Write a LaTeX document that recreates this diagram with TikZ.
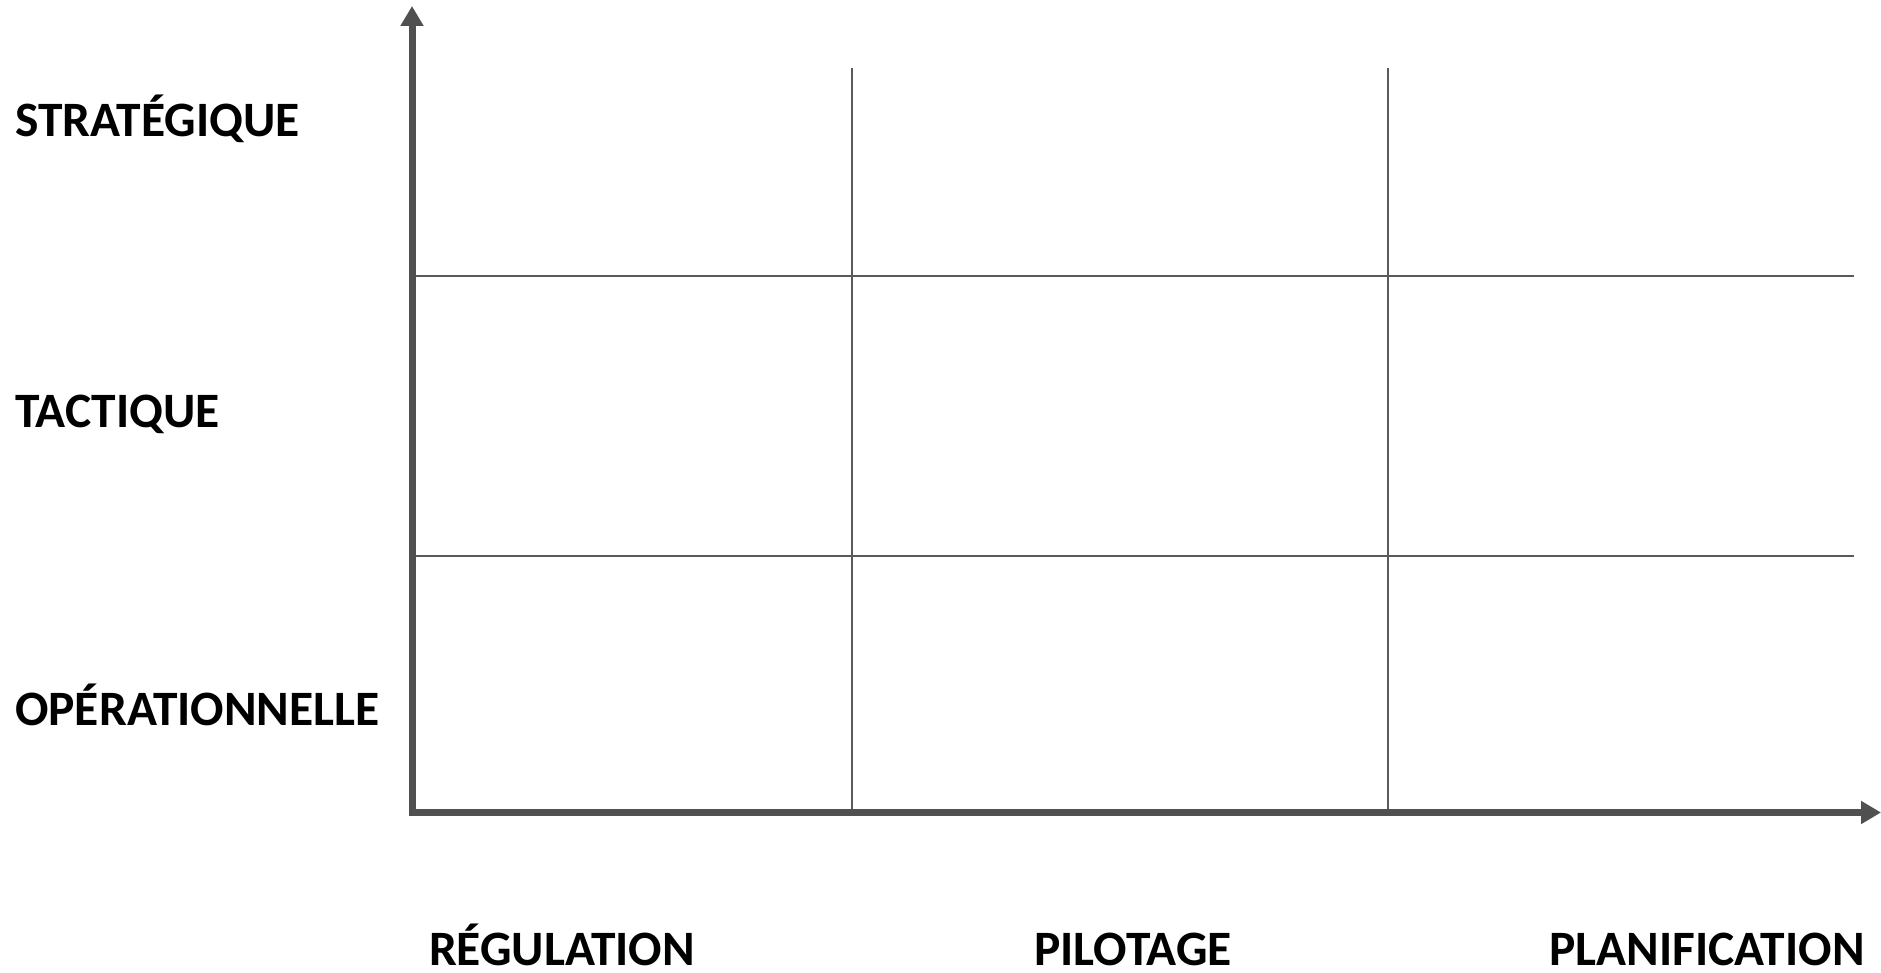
\documentclass[tikz,border=0pt]{standalone}
\usepackage{fontspec}
\setmainfont{Carlito}
\usetikzlibrary{
		positioning,
		arrows.meta
	}
\definecolor{axisgray}{HTML}{505050}
\definecolor{gridgray}{HTML}{5A5A5A}
\tikzset{
		>={Triangle[length=20pt,width=22pt]},
		axis/.style={line width=7pt, axisgray, ->},
		grid line/.style={line width=2pt, gridgray},
		level/.style={anchor=base west, inner sep=0pt, font=\fontsize{49.5}{52}\selectfont\bfseries},
		mode/.style={anchor=base, inner sep=0pt, text depth=0pt, font=\fontsize{49.5}{52}\selectfont\bfseries}
	}

\begin{document}
\begin{tikzpicture}[x=1pt, y=-1pt]
		\useasboundingbox (0,0) rectangle (1881,973);
		% axes
		\coordinate (origin) at (412,812.5);
		\coordinate (ytop) at (412,6);
		\coordinate (xend) at (1881,812.5);
		\coordinate (corner) at (408.5,812.5);
		% grid
		\coordinate (v1top) at (852,68); \coordinate (v1bot) at (852,812);
		\coordinate (v2top) at (1388,68); \coordinate (v2bot) at (1388,812);
		\coordinate (h1left) at (415,276); \coordinate (h1right) at (1854,276);
		\coordinate (h2left) at (415,556); \coordinate (h2right) at (1854,556);
		\draw[grid line] (v1top) -- (v1bot);
		\draw[grid line] (v2top) -- (v2bot);
		\draw[grid line] (h1left) -- (h1right);
		\draw[grid line] (h2left) -- (h2right);
		\draw[axis] (origin |- corner) ++(0,3.5) -- (ytop);
		\draw[axis] (corner) -- (xend);
		% levels
		\node[level] (strat) at (15,137) {STRATÉGIQUE};
		\node[level] (tact) at (15,427) {TACTIQUE};
		\node[level] (oper) at (15,725) {OPÉRATIONNELLE};
		% modes
		\node[mode] (regul) at (562,965) {RÉGULATION};
		\node[mode] (pilot) at (1133,965) {PILOTAGE};
		\node[mode] (planif) at (1707,965) {PLANIFICATION};
	\end{tikzpicture}
\end{document}
